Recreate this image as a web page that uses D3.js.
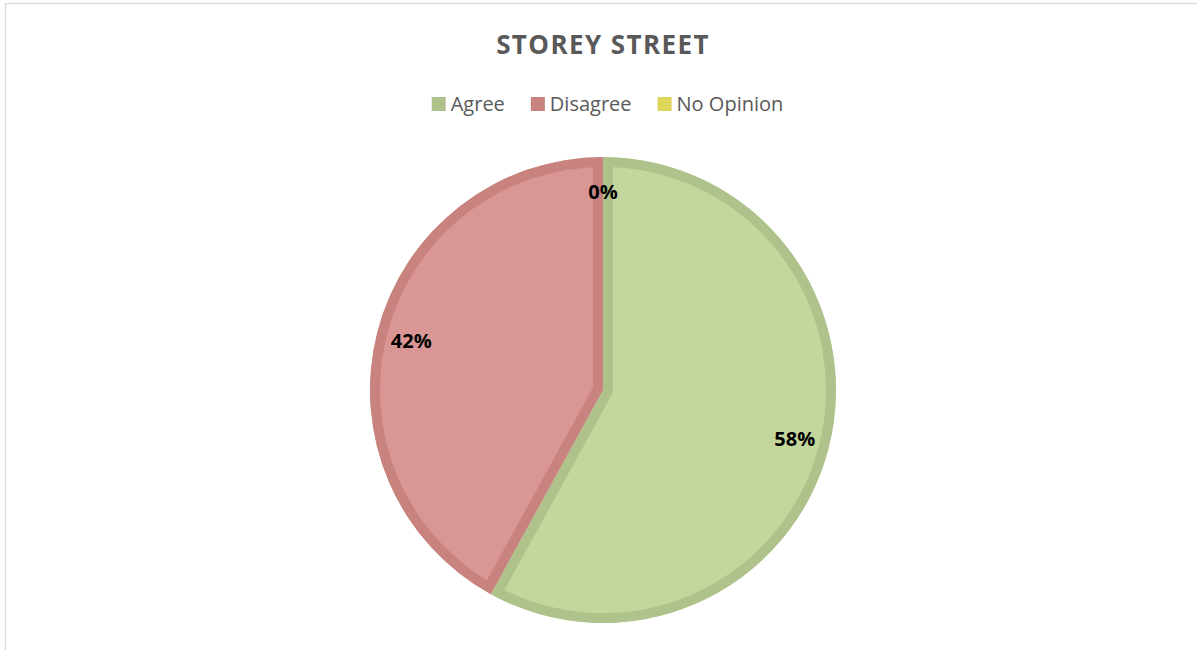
<!DOCTYPE html>
<html><head><meta charset="utf-8">
<script src="https://cdn.jsdelivr.net/npm/d3@7"></script>
<style>html,body{margin:0;padding:0;background:#fff;}svg{display:block;}</style>
</head><body>
<svg id="chart" width="1197" height="650"></svg>
<script>
const title = "STOREY STREET";
const categories = ["Agree", "Disagree", "No Opinion"];
const values = [58, 42, 0];
const labels = ["58%", "42%", "0%"];
const fills = ["#c3d69b", "#d99694", "#e6e070"];
const strokes = ["#afc28b", "#c8837f", "#dcd75a"];

const W = 1197, H = 650;
const svg = d3.select("#chart");
const font = "'Open Sans', 'Liberation Sans', sans-serif";

svg.append("rect").attr("x", 5.5).attr("y", 3.5).attr("width", W + 10).attr("height", H + 10)
  .attr("fill", "#fff").attr("stroke", "#d9d9d9").attr("stroke-width", 1.3);

svg.append("text").attr("x", 603).attr("y", 54).attr("text-anchor", "middle")
  .attr("font-family", font).attr("font-weight", "bold").attr("font-size", 26)
  .attr("letter-spacing", 1.4).attr("fill", "#595959").text(title);

// legend
const lg = svg.append("g");
const items = lg.selectAll("g").data(categories).join("g");
items.append("rect").attr("width", 14).attr("height", 14).attr("y", -7)
  .attr("fill", (d, i) => strokes[i]);
items.append("text").attr("x", 19).attr("y", 0).attr("dy", "0.35em")
  .attr("font-family", font).attr("font-size", 20).attr("fill", "#595959").text(d => d);
let x = 0;
const gap = 26;
items.each(function () {
  const w = this.getBBox().width;
  d3.select(this).attr("transform", `translate(${x},104)`);
  x += w + gap;
});
const totalW = x - gap;
lg.attr("transform", `translate(${607.5 - totalW / 2},0)`);

// pie
const cx = 603, cy = 390, r = 233, border = 10;
const pie = d3.pie().sort(null).value(d => d)(values);
const arc = d3.arc().innerRadius(0).outerRadius(r);
const g = svg.append("g").attr("transform", `translate(${cx},${cy})`);
const defs = svg.append("defs");
pie.forEach((p, i) => {
  defs.append("clipPath").attr("id", "clip" + i).append("path").attr("d", arc(p));
});
g.selectAll("path.slice").data(pie).join("path").attr("class", "slice")
  .attr("d", arc).attr("fill", (d, i) => fills[i])
  .attr("stroke", (d, i) => strokes[i]).attr("stroke-width", border * 2)
  .attr("stroke-linejoin", "miter")
  .attr("clip-path", (d, i) => `url(#clip${i})`);

const labelArc = d3.arc().innerRadius(198).outerRadius(198);
g.selectAll("text.lbl").data(pie).join("text").attr("class", "lbl")
  .attr("transform", d => { const c = labelArc.centroid(d); return `translate(${c[0]},${c[1]})`; })
  .attr("text-anchor", "middle").attr("dy", "0.35em")
  .attr("font-family", font).attr("font-weight", "bold").attr("font-size", 20)
  .attr("fill", "#000").text((d, i) => labels[i]);
</script>
</body></html>
